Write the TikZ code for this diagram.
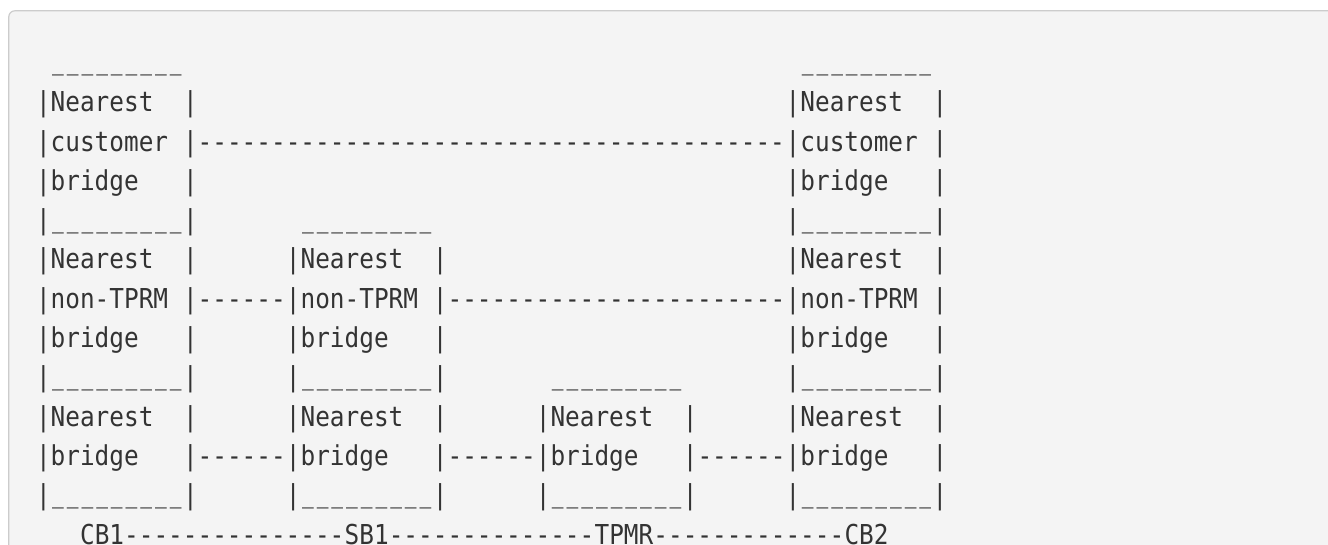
\documentclass[tikz,border=0pt]{standalone}
\usepackage{fontspec}
\setmonofont{DejaVu Sans Mono}[FakeStretch=0.89]
\definecolor{panelgrey}{HTML}{F4F4F4}
\definecolor{rimgrey}{HTML}{CCCCCC}
\definecolor{inkgrey}{HTML}{333333}
\tikzset{chr/.style={anchor=base west, inner sep=0pt, outer sep=0pt, text=inkgrey,
    font=\ttfamily\fontsize{27.4}{39.3}\selectfont}}
% a run of characters, first one in the cell at column #2, row #3
\newcommand{\ascii}[4]{\node[chr] (#1) at ({36+(#2)*14.7},{72.4+(#3)*39.3}) {#4};}
\newcommand{\lidchar}{\makebox[14.7pt]{\raisebox{2.5pt}{\scalebox{0.8}[1]{\_}}}}
\newcommand{\boxlid}{\foreach \i in {1,...,9}{\lidchar}}
\newcommand{\dashrun}[1]{\foreach \i in {1,...,#1}{-\kern0pt}}

\begin{document}
\begin{tikzpicture}[x=1pt,y=-1pt]
\useasboundingbox (0,0) rectangle (1328,544);
\fill[white] (0,0) rectangle (1328,544);
\draw[rimgrey, fill=panelgrey, line width=1.2pt, rounded corners=6pt] (8.8,10.8) rectangle (1400,600);

% box walls
\foreach \c/\ra in {0/1,51/1,17/5,34/9} {
  \foreach \r in {\ra,...,11} {
    \ascii{wl\c-\r}{\c}{\r}{|}
    \ascii{wr\c-\r}{\c+10}{\r}{|}
  }
}

% lids and floors
\foreach \c/\r in {1/0,52/0,18/4,35/8,1/4,1/8,1/11,52/4,52/8,52/11,18/8,18/11,35/11}
  {\ascii{lid\c-\r}{\c}{\r}{\boxlid}}

% box texts
\foreach \c in {1,52} {
  \ascii{cust\c-a}{\c}{1}{Nearest}
  \ascii{cust\c-b}{\c}{2}{customer}
  \ascii{cust\c-c}{\c}{3}{bridge}
}
\foreach \c in {1,18,52} {
  \ascii{ntprm\c-a}{\c}{5}{Nearest}
  \ascii{ntprm\c-b}{\c}{6}{non-TPRM}
  \ascii{ntprm\c-c}{\c}{7}{bridge}
}
\foreach \c in {1,18,35,52} {
  \ascii{near\c-a}{\c}{9}{Nearest}
  \ascii{near\c-b}{\c}{10}{bridge}
}

% links between boxes
\ascii{custlink}{11}{2}{\dashrun{40}}
\ascii{ntlinkA}{11}{6}{\dashrun{6}}
\ascii{ntlinkB}{28}{6}{\dashrun{23}}
\ascii{nblinkA}{11}{10}{\dashrun{6}}
\ascii{nblinkB}{28}{10}{\dashrun{6}}
\ascii{nblinkC}{45}{10}{\dashrun{6}}

% bridges on the path
\ascii{cb1}{3}{12}{CB1}
\ascii{pathA}{6}{12}{\dashrun{15}}
\ascii{sb1}{21}{12}{SB1}
\ascii{pathB}{24}{12}{\dashrun{14}}
\ascii{tpmr}{38}{12}{TPMR}
\ascii{pathC}{42}{12}{\dashrun{13}}
\ascii{cb2}{55}{12}{CB2}
\end{tikzpicture}
\end{document}
